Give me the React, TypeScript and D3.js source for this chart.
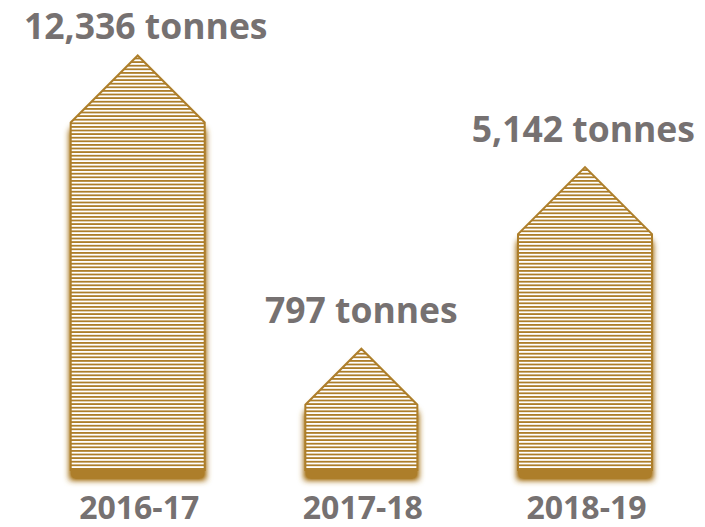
import React, { useEffect, useRef } from 'react';
import * as d3 from 'd3';

const categories: string[] = ['2016-17', '2017-18', '2018-19'];
const values: number[] = [12336, 797, 5142];
const unit = 'tonnes';

const W = 705;
const H = 527;
const GOLD = '#AD7E2A';
const GRAY = '#767171';
const FONT = "'Open Sans', 'Noto Sans', sans-serif";

export default function App() {
  const ref = useRef<SVGSVGElement | null>(null);

  useEffect(() => {
    const svg = d3.select(ref.current);
    svg.selectAll('*').remove();
    const defs = svg.append('defs');

    const period = 3.6;
    const pat = defs
      .append('pattern')
      .attr('id', 'hstripes')
      .attr('patternUnits', 'userSpaceOnUse')
      .attr('width', 10)
      .attr('height', period);
    pat
      .append('rect')
      .attr('width', 10)
      .attr('height', period)
      .attr('fill', '#fff')
      .attr('shape-rendering', 'crispEdges');
    pat
      .append('rect')
      .attr('width', 10)
      .attr('height', 2.2)
      .attr('fill', GOLD)
      .attr('shape-rendering', 'crispEdges');

    const filt = defs
      .append('filter')
      .attr('id', 'shadow')
      .attr('x', '-30%')
      .attr('y', '-30%')
      .attr('width', '160%')
      .attr('height', '160%');
    filt.append('feOffset').attr('in', 'SourceAlpha').attr('dx', 0).attr('dy', 9).attr('result', 'off');
    filt.append('feGaussianBlur').attr('in', 'off').attr('stdDeviation', 3).attr('result', 'blur');
    const ct = filt.append('feComponentTransfer').attr('in', 'blur').attr('result', 'boost');
    ct.append('feFuncA').attr('type', 'linear').attr('slope', 1.5).attr('intercept', 0);
    filt.append('feFlood').attr('flood-color', GOLD).attr('result', 'col');
    filt.append('feComposite').attr('in', 'col').attr('in2', 'boost').attr('operator', 'in').attr('result', 'sh');
    const merge = filt.append('feMerge');
    merge.append('feMergeNode').attr('in', 'sh');
    merge.append('feMergeNode').attr('in', 'SourceGraphic');

    const baseline = 471;
    const x = d3.scalePoint<string>().domain(categories).range([137.7, 585]);
    const ext = d3.extent(values) as [number, number];
    const y = d3.scalePow().exponent(0.2).domain(ext).range([347.7, 54.5]);
    const wScale = d3.scaleLinear().domain([797, 5142]).range([114, 136]).clamp(true);

    const house = (cx: number, half: number, peak: number, base: number) => {
      const p = d3.path();
      p.moveTo(cx - half, base);
      p.lineTo(cx - half, peak + half);
      p.lineTo(cx, peak);
      p.lineTo(cx + half, peak + half);
      p.lineTo(cx + half, base);
      p.closePath();
      return p.toString();
    };

    const data = categories.map((c, i) => ({ c, v: values[i] }));

    svg
      .append('g')
      .selectAll('path')
      .data(data)
      .join('path')
      .attr('d', (d) => house(x(d.c)!, wScale(d.v) / 2 - 1, y(d.v) + 1, baseline - 1))
      .attr('fill', 'url(#hstripes)')
      .attr('stroke', GOLD)
      .attr('stroke-width', 2)
      .attr('stroke-linejoin', 'miter')
      .attr('filter', 'url(#shadow)');

    const fmt = d3.format(',');
    const labels = svg
      .append('g')
      .selectAll('text')
      .data(data)
      .join('text')
      .attr('x', (d) => x(d.c)!)
      .attr('y', (d) => Math.max(y(d.v) - 24.5, 38.5))
      .attr('text-anchor', 'middle')
      .attr('font-family', FONT)
      .attr('font-weight', 700)
      .attr('font-size', 35.5)
      .attr('fill', GRAY)
      .text((d) => `${fmt(d.v)} ${unit}`);

    // keep labels inside the left/right margins
    labels.each(function (d) {
      const el = this as SVGTextElement;
      const tw = el.getComputedTextLength();
      const cx = x(d.c)!;
      const nx = Math.min(Math.max(cx, 24 + tw / 2), W - 10 - tw / 2);
      d3.select(el).attr('x', nx);
    });

    svg
      .append('g')
      .selectAll('text')
      .data(data)
      .join('text')
      .attr('x', (d) => x(d.c)! + 1.5)
      .attr('y', 519)
      .attr('text-anchor', 'middle')
      .attr('font-family', FONT)
      .attr('font-weight', 700)
      .attr('font-size', 32)
      .attr('fill', GRAY)
      .text((d) => d.c);
  }, []);

  return (
    <svg
      ref={ref}
      width={W}
      height={H}
      style={{ position: 'absolute', left: 0, top: 0, background: '#fff' }}
    />
  );
}
